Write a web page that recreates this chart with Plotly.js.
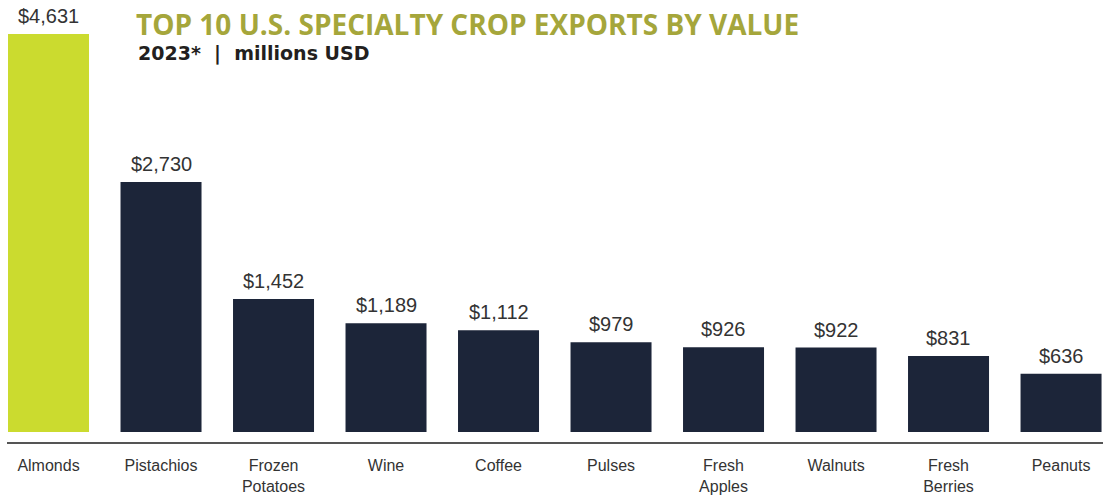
<!DOCTYPE html>
<html>
<head>
<meta charset="utf-8">
<script src="https://cdn.plot.ly/plotly-3.0.1.min.js"></script>
<style>html,body{margin:0;padding:0;background:#fff;}#chart{width:1103px;height:496px;}</style>
</head>
<body>
<div id="chart"></div>
<script>
// Data
var categories = ["Almonds", "Pistachios", "Frozen Potatoes", "Wine", "Coffee", "Pulses", "Fresh Apples", "Walnuts", "Fresh Berries", "Peanuts"];
var tickLabels = ["Almonds", "Pistachios", "Frozen<br>Potatoes", "Wine", "Coffee", "Pulses", "Fresh<br>Apples", "Walnuts", "Fresh<br>Berries", "Peanuts"];
var exportValues = [4631, 2730, 1452, 1189, 1112, 979, 926, 922, 831, 636];
var highlight = "Almonds";

var titleText = "TOP 10 U.S. SPECIALTY CROP EXPORTS BY VALUE";
var subtitleText = "2023*&nbsp;&nbsp;|&nbsp;&nbsp;millions USD";

var Y_MIN = -109, Y_MAX = 4346;

var barColors = categories.map(function (c) { return c === highlight ? "#cbdb2f" : "#1c2539"; });

var trace = {
  type: "bar",
  x: categories,
  y: exportValues,
  width: 0.72,
  marker: { color: barColors, line: { width: 0 } },
  hoverinfo: "x+y"
};

function fmt(v) { return "$" + v.toLocaleString("en-US"); }

var annotations = categories.map(function (c, i) {
  var v = exportValues[i];
  return {
    x: c, xref: "x",
    y: Math.min(v, Y_MAX * 0.9999), yref: "y",
    text: fmt(v),
    showarrow: false,
    xanchor: "center", yanchor: "bottom",
    yshift: 5,
    font: { family: "Liberation Sans, Arial, sans-serif", size: 20, color: "#333333" }
  };
});

annotations.push({
  xref: "paper", yref: "paper",
  x: (136 - 7) / 1096, y: (442 - 53.5) / 408,
  xanchor: "left", yanchor: "middle",
  text: subtitleText,
  showarrow: false,
  font: { family: "DejaVu Sans, sans-serif", size: 19, color: "#231f20", weight: 700 }
});

var layout = {
  width: 1103, height: 496,
  margin: { l: 7, r: 0, t: 34, b: 54, pad: 0 },
  paper_bgcolor: "#ffffff",
  plot_bgcolor: "#ffffff",
  showlegend: false,
  title: {
    text: titleText,
    xref: "container", yref: "container",
    x: 136 / 1103, xanchor: "left",
    y: 1 - 25 / 496, yanchor: "middle",
    font: { family: "Open Sans, sans-serif", size: 28, color: "#a5a63b", weight: 700 }
  },
  xaxis: {
    type: "category",
    range: [-0.369, 9.373],
    tickvals: categories,
    ticktext: tickLabels,
    showgrid: false,
    zeroline: false,
    showline: true,
    linecolor: "#555555",
    linewidth: 2,
    ticks: "",
    ticklabelstandoff: 8,
    tickfont: { family: "Liberation Sans, Arial, sans-serif", size: 16, color: "#333333" },
    fixedrange: true
  },
  yaxis: {
    range: [Y_MIN, Y_MAX],
    visible: false,
    showgrid: false,
    zeroline: false,
    fixedrange: true
  },
  annotations: annotations
};

Plotly.newPlot("chart", [trace], layout, { displayModeBar: false, staticPlot: true });
</script>
</body>
</html>
